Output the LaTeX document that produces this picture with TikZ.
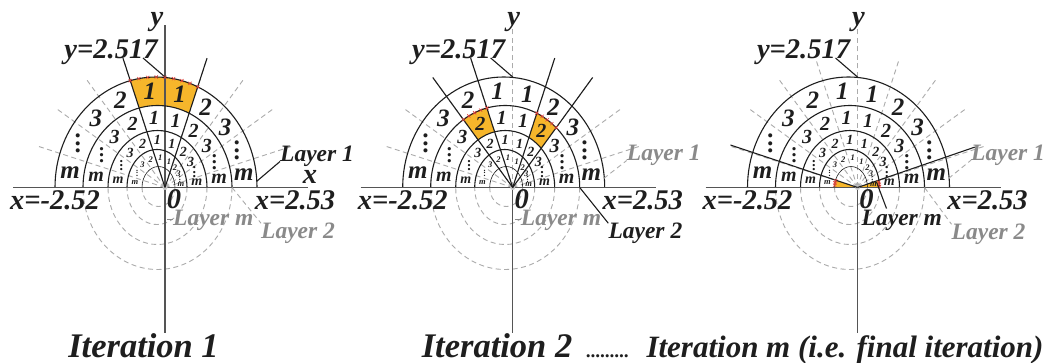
\documentclass[tikz,border=0pt]{standalone}
\usepackage{fontspec}
\setmainfont{Liberation Serif}
\usetikzlibrary{calc}
\definecolor{axgray}{HTML}{555555}
\definecolor{dgray}{HTML}{ABABAB}
\definecolor{tgray}{HTML}{8A8A8A}
\definecolor{hilite}{HTML}{F6B62B}
\definecolor{xred}{HTML}{E2403A}
\definecolor{ink}{HTML}{1E1E1E}
\newcommand\fsz[1]{\fontsize{#1}{#1}\selectfont\bfseries\itshape}
\newcommand\vdts{\vbox{\baselineskip=0.3em\lineskiplimit=-20pt\hbox{.}\hbox{.}\hbox{.}}}
% distance from O to ellipse (centre (cx,0), radii rx, ry) in direction theta -> \rlR
\newcommand\polr[4]{%
 \pgfmathsetmacro\rlc{cos(#4)}%
 \pgfmathsetmacro\rls{sin(#4)}%
 \pgfmathsetmacro\rla{(#2/100)^2}%
 \pgfmathsetmacro\rlb{(#3/100)^2}%
 \pgfmathsetmacro\rld{-(#1)/100}%
 \pgfmathsetmacro\rlA{\rlc*\rlc/\rla+\rls*\rls/\rlb}%
 \pgfmathsetmacro\rlB{2*\rlc*\rld/\rla}%
 \pgfmathsetmacro\rlC{\rld*\rld/\rla-1}%
 \pgfmathsetmacro\rlR{100*(-\rlB+sqrt(\rlB*\rlB-4*\rlA*\rlC))/(2*\rlA)}%
}
\newcommand\ringlabels[6]{%
 \foreach \ang/\txt [count=\k] in {9/m,27/{\vdts},45/3,63/2,81/1,99/1,117/2,135/3,153/{\vdts},171/m}{%
   \polr{#2}{#3}{#4}{\ang}%
   \node[ringlab, font=\fsz{#5}] (#1-#6-\k) at (\ang:\rlR) {\txt};
 }}
% ring fill between two ellipses within a sector
\newcommand\hlring[8]{%
 \begin{scope}
  \clip (0,0) -- (#7:220) -- (#8:220) -- cycle;
  \fill[hilite, even odd rule] (#1,0) ellipse[x radius=#2, y radius=#3] (#4,0) ellipse[x radius=#5, y radius=#6];
 \end{scope}}
\newcommand\hlcore[5]{%
 \begin{scope}
  \clip (0,0) -- (#4:220) -- (#5:220) -- cycle;
  \fill[hilite] (#1,0) ellipse[x radius=#2, y radius=#3];
 \end{scope}}
\newcommand\xmarks[6]{%
 \foreach \t in {#4,#5,...,#6}{%
  \polr{#1}{#2}{#3}{\t}%
  \draw[xmark] (\t:\rlR) +(-1.6,-1.6) -- +(1.6,1.6) +(-1.6,1.6) -- +(1.6,-1.6);
 }}
\newcommand\panelback{%
 \foreach \a in {18,36,...,162} \draw[gdash] (0,0) -- (\a:135);
 \draw[gdash] (67,0) arc[start angle=0,end angle=-180,x radius=74.5,y radius=82];
 \draw[gdash] (42,0) arc[start angle=0,end angle=-180,x radius=49.5,y radius=57];
 \draw[gdash] (22,0) arc[start angle=0,end angle=-180,x radius=30,y radius=37];
 \draw[gdash] (10,0) arc[start angle=0,end angle=-180,x radius=16.5,y radius=19];
}
\newcommand\panelfront[1]{%
 \draw[arcline] (92,0) arc[start angle=0,end angle=180,x radius=101,y radius=110.5];
 \draw[arcline] (67,0) arc[start angle=0,end angle=180,x radius=74.5,y radius=82];
 \draw[arcline] (42,0) arc[start angle=0,end angle=180,x radius=49.5,y radius=57];
 \draw[arcline] (22,0) arc[start angle=0,end angle=180,x radius=30,y radius=38];
 \draw[thinarc] (10,0) arc[start angle=0,end angle=180,x radius=16.5,y radius=21];
 \draw[haxis] (-152,0) -- (143,0);
 \draw[vaxis] (0,0) -- (0,-145.5);
 \fill[gray!45] (0,0) circle (2.5);
 \ringlabels{#1}{-8.25}{87.75}{96.25}{25}{a}
 \ringlabels{#1}{-7.5}{62}{69.5}{20}{b}
 \ringlabels{#1}{-7.75}{39.75}{47.5}{14}{c}
 \ringlabels{#1}{-7.25}{23.25}{29.5}{8.5}{d}
 \node[lab] (#1-zero) at (9,-12) {0};
 \node[lab] (#1-xl) at (-110,-12.5) {x=-2.52};
 \node[lab] (#1-xr) at (130,-12.5) {x=2.53};
 \node[lab] (#1-yv) at (-54,135.5) {y=2.517};
 \coordinate (#1-ya) at (-22,129.5);
 \coordinate (#1-yb) at (0,110.5);
 \draw[lead] (#1-ya) -- (#1-yb);
}
\begin{document}
\begin{tikzpicture}[x=1pt,y=1pt,
 lab/.style={text=ink, inner sep=0, font=\fsz{28.5}},
 ringlab/.style={text=ink, inner sep=0},
 layb/.style={text=ink, inner sep=0, font=\fsz{23.5}},
 layg/.style={text=tgray, inner sep=0, font=\fsz{23.5}},
 capt/.style={text=ink, inner sep=0, font=\fsz{34.5}},
 gdash/.style={draw=dgray, line width=0.9pt, dash pattern=on 5pt off 3.5pt},
 arcline/.style={draw=ink, line width=1.1pt},
 thinarc/.style={draw=ink, line width=0.6pt},
 haxis/.style={draw=axgray, line width=1.8pt},
 vaxis/.style={draw=axgray, line width=1.2pt},
 sector/.style={draw=ink, line width=1.1pt},
 lead/.style={draw=ink, line width=1.1pt},
 xmark/.style={draw=xred, line width=0.6pt}]
\useasboundingbox (0,0) rectangle (1046,-363);
\fill[white] (0,0) rectangle (1046,-363);

% ---------- Panel 1
\begin{scope}[shift={(165,-187.5)}]
 \panelback
 \hlring{-9}{101}{110.5}{-7.5}{74.5}{82}{72}{108}
 \draw[vaxis] (0,0) -- (0,162.5);
 \panelfront{p1}
 \draw[sector] (0,0) -- (72:136);
 \draw[sector] (0,0) -- (108:136);
 \xmarks{-9}{101}{110.5}{72}{76.5}{108}
 \node[lab] (p1-y) at (-8,165.5) {y};
 \node[lab] (p1-x) at (145,10.5) {x};
 \node[layb, anchor=base west] (p1-L1) at (115,26) {Layer 1};
 \coordinate (p1-L1a) at (91.5,6);
 \draw[lead] (p1-L1a) -- (p1-L1.base west);
 \node[layg, anchor=base west] (p1-L2) at (96,-51.5) {Layer 2};
 \coordinate (p1-L2a) at (67,0);
 \draw[gdash] (p1-L2a) -- (p1-L2.north west);
 \node[layg, anchor=base west] (p1-Lm) at (8,-38.5) {Layer m};
 \coordinate (p1-Lma) at (2,-31.5);
 \coordinate (p1-Lmb) at (8,-31.5);
 \draw[draw=tgray, line width=0.9pt] (p1-Lma) -- (p1-Lmb);
\end{scope}

% ---------- Panel 2
\begin{scope}[shift={(512.7,-187.5)}]
 \panelback
 \hlring{-7.5}{74.5}{82}{-7.5}{49.5}{57}{54}{72}
 \hlring{-7.5}{74.5}{82}{-7.5}{49.5}{57}{108}{126}
 \draw[gdash] (0,0) -- (0,170);
 \panelfront{p2}
 \draw[sector] (0,0) -- (54:136);
 \draw[sector] (0,0) -- (72:136);
 \draw[sector] (0,0) -- (108:136);
 \draw[sector] (0,0) -- (126:136);
 \xmarks{-7.5}{74.5}{82}{54}{58.5}{72}
 \xmarks{-7.5}{74.5}{82}{108}{112.5}{126}
 \node[lab] (p2-y) at (1,165.5) {y};
 \node[layg, anchor=base west] (p2-L1) at (114,27) {Layer 1};
 \coordinate (p2-L1a) at (91,9);
 \draw[gdash] (p2-L1a) -- (p2-L1.base west);
 \node[layb, anchor=base west] (p2-L2) at (95.6,-51.5) {Layer 2};
 \coordinate (p2-L2a) at (67,0);
 \draw[lead] (p2-L2a) -- (p2-L2.north west);
 \node[layg, anchor=base west] (p2-Lm) at (8,-38.5) {Layer m};
 \coordinate (p2-Lma) at (2,-31.5);
 \coordinate (p2-Lmb) at (8,-31.5);
 \draw[draw=tgray, line width=0.9pt] (p2-Lma) -- (p2-Lmb);
\end{scope}

% ---------- Panel 3
\begin{scope}[shift={(857.5,-187.5)}]
 \panelback
 \hlcore{-0.5}{22.5}{22}{0}{18}
 \hlcore{-0.5}{22.5}{22}{162}{180}
 \draw[gdash] (0,0) -- (0,170);
 \panelfront{p3}
 \draw[sector] (0,0) -- (19:124);
 \draw[sector] (0,0) -- (161.5:134);
 \xmarks{-0.5}{22.5}{22}{3}{8.5}{17}
 \xmarks{-0.5}{22.5}{22}{163}{168.5}{178}
 \node[lab] (p3-y) at (1,165.5) {y};
 \node[layg, anchor=base west] (p3-L1) at (113.5,27.3) {Layer 1};
 \coordinate (p3-L1a) at (91,9);
 \draw[gdash] (p3-L1a) -- (p3-L1.base west);
 \node[layg, anchor=base west] (p3-L2) at (94,-52.5) {Layer 2};
 \coordinate (p3-L2a) at (67,0);
 \draw[gdash] (p3-L2a) -- (p3-L2.north west);
 \node[layb, anchor=base west] (p3-Lm) at (4,-38.5) {Layer m};
 \coordinate (p3-Lma) at (19,5.5);
 \coordinate (p3-Lmb) at (29,-21);
 \draw[lead] (p3-Lma) -- (p3-Lmb);
\end{scope}

% ---------- captions
\node[capt, anchor=base] (cap1) at (143.5,-357) {Iteration 1};
\node[capt, anchor=base] (cap2) at (497,-357) {Iteration 2};
\node[text=ink, inner sep=0, font=\fsz{19}, anchor=base] (capdots) at (608,-357) {.........};
\node[text=ink, inner sep=0, font=\fsz{31}, anchor=base] (cap3) at (845,-357) {Iteration m (i.e. final iteration)};
\end{tikzpicture}
\end{document}
